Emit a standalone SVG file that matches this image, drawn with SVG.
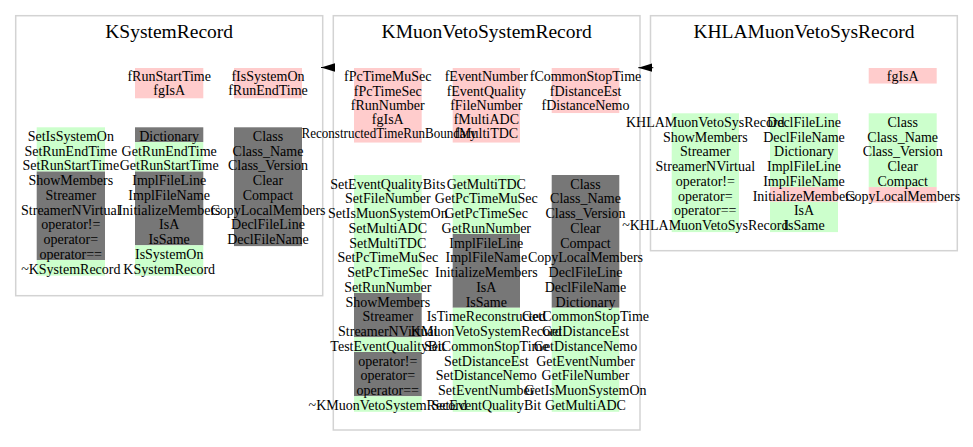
<svg xmlns="http://www.w3.org/2000/svg" width="973" height="447" viewBox="0 0 973 447">
<style>
.bg{fill:#ffffff}
.box{fill:#ffffff;stroke:#d3d3d3;stroke-width:1.5}
.title{font-family:"Liberation Serif","Times New Roman",serif;font-size:19.5px;fill:#000;text-anchor:middle}
.t{font-family:"Liberation Serif","Times New Roman",serif;font-size:14px;fill:#000;text-anchor:middle}
.pk{fill:#ffcccc}
.gr{fill:#ccffcc}
.gy{fill:#777777}
.edge{fill:none;stroke:#000;stroke-width:1}
</style>
<defs>
<marker id="tri" viewBox="0 0 14 8.5" refX="14" refY="4.25" markerWidth="14" markerHeight="8.5" markerUnits="userSpaceOnUse" orient="auto">
<path d="M0,0 L14,4.25 L0,8.5 z" fill="#000"/>
</marker>
</defs>
<rect class="bg" x="0" y="0" width="973" height="447"/>

<g id="KSystemRecord">
<rect class="box" x="15.7" y="15.7" width="307" height="280"/>
<text class="title" x="169.2" y="38.3">KSystemRecord</text>
<rect class="pk" x="135" y="68" width="68.3" height="30.3"/>
<rect class="pk" x="234" y="68" width="68" height="30.3"/>
<text class="t" x="169.2" y="81.3">fRunStartTime</text>
<text class="t" x="169.2" y="95.3">fgIsA</text>
<text class="t" x="268" y="81.3">fIsSystemOn</text>
<text class="t" x="268" y="95.3">fRunEndTime</text>
<rect class="gr" x="36.7" y="127.3" width="68.3" height="44.25"/>
<rect class="gy" x="36.7" y="171.55" width="68.3" height="88.5"/>
<rect class="gr" x="36.7" y="260.05" width="68.3" height="15.55"/>
<rect class="gy" x="135" y="127.3" width="68.3" height="14.75"/>
<rect class="gr" x="135" y="142.05" width="68.3" height="29.5"/>
<rect class="gy" x="135" y="171.55" width="68.3" height="73.75"/>
<rect class="gr" x="135" y="245.3" width="68.3" height="30.3"/>
<rect class="gy" x="234" y="127.3" width="68" height="118.8"/>
<text class="t" x="70.8" y="140.8">SetIsSystemOn</text>
<text class="t" x="70.8" y="155.55">SetRunEndTime</text>
<text class="t" x="70.8" y="170.3">SetRunStartTime</text>
<text class="t" x="70.8" y="185.05">ShowMembers</text>
<text class="t" x="70.8" y="199.8">Streamer</text>
<text class="t" x="70.8" y="214.55">StreamerNVirtual</text>
<text class="t" x="70.8" y="229.3">operator!=</text>
<text class="t" x="70.8" y="244.05">operator=</text>
<text class="t" x="70.8" y="258.8">operator==</text>
<text class="t" x="70.8" y="273.55">~KSystemRecord</text>
<text class="t" x="169.2" y="140.8">Dictionary</text>
<text class="t" x="169.2" y="155.55">GetRunEndTime</text>
<text class="t" x="169.2" y="170.3">GetRunStartTime</text>
<text class="t" x="169.2" y="185.05">ImplFileLine</text>
<text class="t" x="169.2" y="199.8">ImplFileName</text>
<text class="t" x="169.2" y="214.55">InitializeMembers</text>
<text class="t" x="169.2" y="229.3">IsA</text>
<text class="t" x="169.2" y="244.05">IsSame</text>
<text class="t" x="169.2" y="258.8">IsSystemOn</text>
<text class="t" x="169.2" y="273.55">KSystemRecord</text>
<text class="t" x="268" y="140.8">Class</text>
<text class="t" x="268" y="155.55">Class_Name</text>
<text class="t" x="268" y="170.3">Class_Version</text>
<text class="t" x="268" y="185.05">Clear</text>
<text class="t" x="268" y="199.8">Compact</text>
<text class="t" x="268" y="214.55">CopyLocalMembers</text>
<text class="t" x="268" y="229.3">DeclFileLine</text>
<text class="t" x="268" y="244.05">DeclFileName</text>
</g>

<g id="KMuonVetoSystemRecord">
<rect class="box" x="333.3" y="15.7" width="306.7" height="414.3"/>
<text class="title" x="486.7" y="38.3">KMuonVetoSystemRecord</text>
<rect class="pk" x="354" y="68" width="67.7" height="74.55"/>
<rect class="pk" x="452.7" y="68" width="67.3" height="74.55"/>
<rect class="pk" x="551.7" y="68" width="67.6" height="45.05"/>
<text class="t" x="387.8" y="81.3">fPcTimeMuSec</text>
<text class="t" x="387.8" y="95.55">fPcTimeSec</text>
<text class="t" x="387.8" y="109.8">fRunNumber</text>
<text class="t" x="387.8" y="124.05">fgIsA</text>
<text class="t" x="389" y="138.3" textLength="175" lengthAdjust="spacingAndGlyphs">ReconstructedTimeRunBoundary</text>
<text class="t" x="486.3" y="81.3">fEventNumber</text>
<text class="t" x="486.3" y="95.55">fEventQuality</text>
<text class="t" x="486.3" y="109.8">fFileNumber</text>
<text class="t" x="486.3" y="124.05">fMultiADC</text>
<text class="t" x="486.3" y="138.3">fMultiTDC</text>
<text class="t" x="585.5" y="81.3">fCommonStopTime</text>
<text class="t" x="585.5" y="95.55">fDistanceEst</text>
<text class="t" x="585.5" y="109.8">fDistanceNemo</text>
<rect class="gr" x="354" y="175" width="67.7" height="118"/>
<rect class="gy" x="354" y="293" width="67.7" height="44.25"/>
<rect class="gr" x="354" y="337.25" width="67.7" height="14.75"/>
<rect class="gy" x="354" y="352" width="67.7" height="44.25"/>
<rect class="gr" x="354" y="396.25" width="67.7" height="15.55"/>
<rect class="gr" x="452.7" y="175" width="67.3" height="59"/>
<rect class="gy" x="452.7" y="234" width="67.3" height="73.75"/>
<rect class="gr" x="452.7" y="307.75" width="67.3" height="104.05"/>
<rect class="gy" x="551.7" y="175" width="67.6" height="132.75"/>
<rect class="gr" x="551.7" y="307.75" width="67.6" height="104.05"/>
<text class="t" x="387.8" y="188.5">SetEventQualityBits</text>
<text class="t" x="387.8" y="203.25">SetFileNumber</text>
<text class="t" x="387.8" y="218">SetIsMuonSystemOn</text>
<text class="t" x="387.8" y="232.75">SetMultiADC</text>
<text class="t" x="387.8" y="247.5">SetMultiTDC</text>
<text class="t" x="387.8" y="262.25">SetPcTimeMuSec</text>
<text class="t" x="387.8" y="277">SetPcTimeSec</text>
<text class="t" x="387.8" y="291.75">SetRunNumber</text>
<text class="t" x="387.8" y="306.5">ShowMembers</text>
<text class="t" x="387.8" y="321.25">Streamer</text>
<text class="t" x="387.8" y="336">StreamerNVirtual</text>
<text class="t" x="387.8" y="350.75">TestEventQualityBit</text>
<text class="t" x="387.8" y="365.5">operator!=</text>
<text class="t" x="387.8" y="380.25">operator=</text>
<text class="t" x="387.8" y="395">operator==</text>
<text class="t" x="387.8" y="409.75">~KMuonVetoSystemRecord</text>
<text class="t" x="486.3" y="188.5">GetMultiTDC</text>
<text class="t" x="486.3" y="203.25">GetPcTimeMuSec</text>
<text class="t" x="486.3" y="218">GetPcTimeSec</text>
<text class="t" x="486.3" y="232.75">GetRunNumber</text>
<text class="t" x="486.3" y="247.5">ImplFileLine</text>
<text class="t" x="486.3" y="262.25">ImplFileName</text>
<text class="t" x="486.3" y="277">InitializeMembers</text>
<text class="t" x="486.3" y="291.75">IsA</text>
<text class="t" x="486.3" y="306.5">IsSame</text>
<text class="t" x="486.3" y="321.25">IsTimeReconstructed</text>
<text class="t" x="486.3" y="336">KMuonVetoSystemRecord</text>
<text class="t" x="486.3" y="350.75">SetCommonStopTime</text>
<text class="t" x="486.3" y="365.5">SetDistanceEst</text>
<text class="t" x="486.3" y="380.25">SetDistanceNemo</text>
<text class="t" x="486.3" y="395">SetEventNumber</text>
<text class="t" x="486.3" y="409.75">SetEventQualityBit</text>
<text class="t" x="585.5" y="188.5">Class</text>
<text class="t" x="585.5" y="203.25">Class_Name</text>
<text class="t" x="585.5" y="218">Class_Version</text>
<text class="t" x="585.5" y="232.75">Clear</text>
<text class="t" x="585.5" y="247.5">Compact</text>
<text class="t" x="585.5" y="262.25">CopyLocalMembers</text>
<text class="t" x="585.5" y="277">DeclFileLine</text>
<text class="t" x="585.5" y="291.75">DeclFileName</text>
<text class="t" x="585.5" y="306.5">Dictionary</text>
<text class="t" x="585.5" y="321.25">GetCommonStopTime</text>
<text class="t" x="585.5" y="336">GetDistanceEst</text>
<text class="t" x="585.5" y="350.75">GetDistanceNemo</text>
<text class="t" x="585.5" y="365.5">GetEventNumber</text>
<text class="t" x="585.5" y="380.25">GetFileNumber</text>
<text class="t" x="585.5" y="395">GetIsMuonSystemOn</text>
<text class="t" x="585.5" y="409.75">GetMultiADC</text>
</g>

<g id="KHLAMuonVetoSysRecord">
<rect class="box" x="650.5" y="15.7" width="306.8" height="235"/>
<text class="title" x="803.9" y="38.3">KHLAMuonVetoSysRecord</text>
<rect class="pk" x="868.7" y="68" width="68" height="15.55"/>
<text class="t" x="902.7" y="81.3">fgIsA</text>
<rect class="gr" x="671.7" y="113.3" width="67.3" height="118.8"/>
<rect class="gr" x="770" y="113.3" width="68" height="73.75"/>
<rect class="pk" x="770" y="187.05" width="68" height="14.75"/>
<rect class="gr" x="770" y="201.8" width="68" height="30.3"/>
<rect class="gr" x="868.7" y="113.3" width="68" height="73.75"/>
<rect class="pk" x="868.7" y="187.05" width="68" height="15.55"/>
<text class="t" x="705.3" y="126.8">KHLAMuonVetoSysRecord</text>
<text class="t" x="705.3" y="141.55">ShowMembers</text>
<text class="t" x="705.3" y="156.3">Streamer</text>
<text class="t" x="705.3" y="171.05">StreamerNVirtual</text>
<text class="t" x="705.3" y="185.8">operator!=</text>
<text class="t" x="705.3" y="200.55">operator=</text>
<text class="t" x="705.3" y="215.3">operator==</text>
<text class="t" x="705.3" y="230.05">~KHLAMuonVetoSysRecord</text>
<text class="t" x="804" y="126.8">DeclFileLine</text>
<text class="t" x="804" y="141.55">DeclFileName</text>
<text class="t" x="804" y="156.3">Dictionary</text>
<text class="t" x="804" y="171.05">ImplFileLine</text>
<text class="t" x="804" y="185.8">ImplFileName</text>
<text class="t" x="804" y="200.55">InitializeMembers</text>
<text class="t" x="804" y="215.3">IsA</text>
<text class="t" x="804" y="230.05">IsSame</text>
<text class="t" x="902.7" y="126.8">Class</text>
<text class="t" x="902.7" y="141.55">Class_Name</text>
<text class="t" x="902.7" y="156.3">Class_Version</text>
<text class="t" x="902.7" y="171.05">Clear</text>
<text class="t" x="902.7" y="185.8">Compact</text>
<text class="t" x="902.7" y="200.55">CopyLocalMembers</text>
</g>

<g id="connectors">
<path class="edge" d="M335,67.5 L321,67.5" marker-end="url(#tri)"/>
<path class="edge" d="M653.3,67.7 L638.3,67.7" marker-end="url(#tri)"/>
</g>
</svg>
